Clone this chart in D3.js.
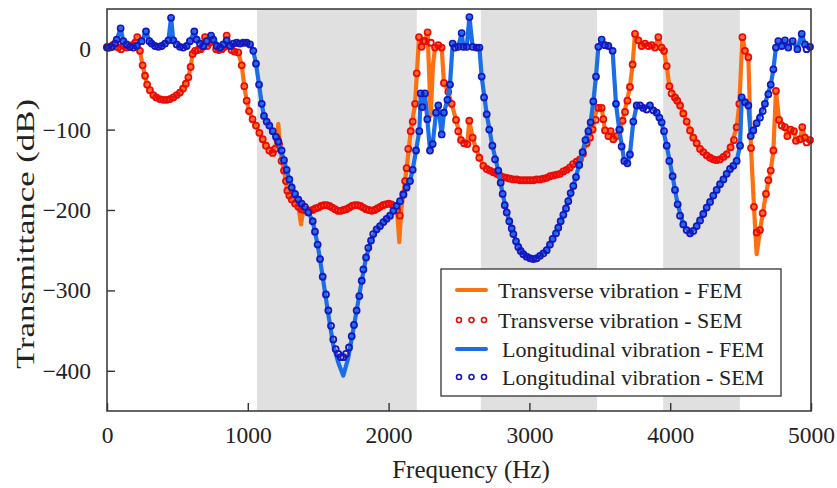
<!DOCTYPE html>
<html>
<head>
<meta charset="utf-8">
<script src="https://cdn.jsdelivr.net/npm/d3@7"></script>
<style>
  html, body { margin: 0; padding: 0; background: #fff; }
  svg { display: block; font-family: "Liberation Serif", "Times New Roman", serif; }
</style>
</head>
<body>
<svg id="chart" width="837" height="488"></svg>
<script>
// Band-gap frequency ranges (Hz), shaded grey
const bandGaps = [[1065, 2200], [2655, 3480], [3950, 4495]];

const xTicks = [0, 1000, 2000, 3000, 4000, 5000];
const yTicks = [0, -100, -200, -300, -400];

// Transverse vibration, finite element model: [frequency (Hz), transmittance (dB)]
const transverseFEM = [
  [0,3],[40,5],[80,2],[120,4],[160,3],[200,8],[215,15],[234,-2],[253,-20],[270,-33],[285,-44],[305,-51],
  [329,-57],[375,-62],[424,-63],[471,-60],[518,-54],[560,-43],[578,-35],[594,-22],[608,-6],[625,-2],
  [665,0],[680,3],[696,15],[712,4],[730,8],[755,11],[775,0],[815,0],[835,3],[850,17],[865,5],[905,-3],
  [932,-4],[957,-20],[975,-46],[992,-64],[1009,-77],[1034,-87],[1082,-104],[1129,-120],[1177,-129],
  [1200,-118],[1217,-93],[1228,-125],[1257,-151],[1281,-176],[1312,-187],[1359,-196],[1378,-218],
  [1394,-200],[1440,-201],[1500,-197],[1560,-194],[1620,-199],[1660,-201],[1720,-197],[1780,-194],
  [1840,-199],[1880,-201],[1940,-196],[2000,-192],[2040,-195],[2060,-200],[2076,-240],[2090,-200],
  [2105,-180],[2128,-148],[2157,-102],[2188,-68],[2216,15],[2234,3],[2246,10],[2258,10],[2277,21],
  [2299,-83],[2315,-20],[2330,2],[2353,5],[2377,2],[2393,-42],[2424,-53],[2448,-68],[2479,-88],
  [2514,-113],[2559,-118],[2573,-89],[2597,-110],[2621,-124],[2673,-145],[2720,-151],[2839,-160],
  [2933,-163],[3028,-163],[3123,-160],[3217,-155],[3288,-147],[3359,-137],[3407,-117],[3449,-100],
  [3470,-80],[3490,-71],[3513,-73],[3537,-101],[3561,-108],[3577,-102],[3596,-112],[3620,-108],
  [3662,-89],[3714,-47],[3733,-19],[3750,19],[3774,11],[3797,4],[3821,7],[3868,5],[3892,2],[3916,15],
  [3939,2],[3956,-2],[3975,-21],[3994,-46],[4034,-60],[4070,-70],[4117,-90],[4164,-110],[4212,-124],
  [4283,-135],[4330,-138],[4378,-134],[4429,-122],[4472,-97],[4491,-68],[4513,15],[4531,-2],[4555,-10],
  [4574,-123],[4595,-196],[4614,-255],[4638,-225],[4680,-180],[4714,-151],[4733,-126],[4751,-52],
  [4773,-88],[4815,-97],[4832,-108],[4855,-100],[4879,-102],[4893,-114],[4922,-112],[4938,-97],
  [4957,-110],[4993,-113]
];

// Transverse vibration, spectral element model
const transverseSEM = [
  [0,3],[20,2],[40,5],[60,7],[80,2],[100,0],[120,4],[140,2],[160,3],[180,5],[200,8],[215,15],[234,-2],
  [253,-20],[270,-33],[285,-44],[305,-51],[329,-57],[350,-60],[375,-62],[400,-63],[424,-63],[447,-62],
  [471,-60],[495,-57],[518,-54],[540,-49],[560,-43],[578,-35],[594,-22],[608,-6],[625,-2],[645,-1],
  [665,0],[680,3],[696,15],[712,4],[730,8],[755,11],[775,0],[795,-1],[815,0],[835,3],[850,17],[865,5],
  [885,-1],[905,-3],[932,-4],[957,-20],[975,-46],[992,-64],[1009,-77],[1034,-87],[1058,-95],[1082,-104],
  [1106,-112],[1129,-120],[1153,-126],[1177,-129],[1193,-124],[1210,-112],[1222,-118],[1240,-139],
  [1257,-151],[1271,-164],[1281,-176],[1295,-182],[1312,-187],[1335,-192],[1359,-196],[1380,-199],
  [1400,-200],[1420,-200],[1440,-201],[1460,-200],[1480,-198],[1500,-197],[1520,-195],[1540,-194],
  [1560,-194],[1580,-195],[1600,-197],[1620,-199],[1640,-201],[1660,-201],[1680,-200],[1700,-199],
  [1720,-197],[1740,-195],[1760,-194],[1780,-194],[1800,-195],[1820,-197],[1840,-199],[1860,-200],
  [1880,-201],[1900,-200],[1920,-198],[1940,-196],[1960,-194],[1980,-193],[2000,-192],[2020,-193],
  [2040,-195],[2060,-200],[2080,-207],[2105,-180],[2117,-164],[2128,-148],[2140,-124],[2157,-102],
  [2171,-90],[2188,-68],[2200,-30],[2216,15],[2234,3],[2246,10],[2258,10],[2277,21],[2300,8],[2330,2],
  [2353,5],[2377,2],[2393,-42],[2424,-53],[2448,-68],[2479,-88],[2495,-102],[2514,-113],[2536,-117],
  [2559,-118],[2573,-89],[2597,-110],[2621,-124],[2644,-135],[2673,-145],[2697,-149],[2720,-151],
  [2744,-153],[2768,-155],[2790,-157],[2815,-159],[2839,-160],[2863,-161],[2886,-162],[2910,-162],
  [2933,-163],[2957,-163],[2980,-163],[3004,-163],[3028,-163],[3051,-162],[3075,-162],[3099,-161],
  [3123,-160],[3146,-158],[3170,-157],[3194,-156],[3217,-155],[3241,-152],[3264,-150],[3288,-147],
  [3310,-143],[3335,-140],[3359,-137],[3380,-130],[3407,-117],[3430,-110],[3449,-100],[3470,-88],
  [3490,-73],[3513,-73],[3525,-87],[3537,-101],[3561,-108],[3577,-102],[3596,-112],[3620,-108],
  [3643,-100],[3662,-89],[3679,-78],[3696,-64],[3714,-47],[3733,-19],[3750,19],[3774,11],[3797,4],
  [3821,7],[3845,4],[3868,5],[3892,2],[3916,15],[3939,2],[3956,-2],[3975,-21],[3994,-46],[4010,-55],
  [4034,-60],[4050,-64],[4070,-70],[4093,-80],[4117,-90],[4141,-101],[4164,-110],[4188,-117],
  [4212,-124],[4235,-128],[4259,-132],[4283,-135],[4306,-137],[4330,-138],[4354,-137],[4378,-134],
  [4401,-131],[4429,-122],[4453,-113],[4472,-97],[4491,-68],[4513,15],[4531,-2],[4555,-10],[4574,-123],
  [4595,-196],[4614,-228],[4638,-225],[4657,-204],[4680,-180],[4697,-163],[4714,-151],[4733,-126],
  [4751,-52],[4773,-88],[4792,-95],[4815,-97],[4832,-108],[4855,-100],[4879,-102],[4893,-114],
  [4922,-112],[4938,-97],[4957,-110],[4969,-116],[4993,-113]
];

// Longitudinal vibration, finite element model
const longitudinalFEM = [
  [0,2],[33,3],[69,12],[97,26],[116,10],[163,3],[211,4],[246,10],[277,22],[301,10],[341,4],[388,4],
  [436,11],[455,39],[471,11],[518,3],[566,4],[589,10],[620,22],[637,12],[684,4],[708,10],[739,17],
  [755,12],[803,2],[850,11],[874,4],[921,8],[992,8],[1016,6],[1039,-2],[1058,-18],[1080,-44],[1099,-68],
  [1115,-83],[1153,-95],[1217,-115],[1257,-138],[1295,-162],[1335,-180],[1382,-192],[1430,-203],
  [1461,-214],[1496,-243],[1532,-283],[1572,-330],[1607,-368],[1643,-390],[1678,-406],[1712,-385],
  [1738,-360],[1773,-325],[1809,-288],[1840,-259],[1875,-238],[1915,-224],[1963,-215],[2010,-207],
  [2057,-195],[2105,-181],[2152,-164],[2171,-150],[2195,-126],[2218,-102],[2228,-55],[2240,-72],
  [2258,-55],[2275,-87],[2294,-126],[2313,-118],[2337,-79],[2353,-70],[2377,-106],[2393,-79],[2418,-63],
  [2436,-44],[2455,7],[2495,3],[2519,20],[2531,3],[2555,3],[2574,40],[2597,3],[2645,2],[2661,-34],
  [2697,-81],[2737,-120],[2779,-151],[2810,-180],[2839,-203],[2874,-223],[2905,-239],[2938,-251],
  [2980,-258],[3028,-261],[3075,-257],[3123,-250],[3165,-236],[3205,-222],[3241,-206],[3276,-189],
  [3312,-170],[3354,-144],[3398,-113],[3435,-91],[3454,-65],[3473,-34],[3490,3],[3513,12],[3537,5],
  [3561,4],[3591,-2],[3615,-68],[3638,-100],[3674,-139],[3696,-142],[3714,-131],[3738,-90],[3762,-70],
  [3809,-73],[3856,-70],[3904,-79],[3939,-91],[3975,-120],[4017,-158],[4053,-193],[4093,-218],
  [4141,-229],[4188,-220],[4259,-197],[4330,-175],[4401,-155],[4448,-145],[4472,-139],[4496,-120],
  [4508,-60],[4531,-66],[4555,-70],[4572,-108],[4614,-92],[4673,-68],[4714,-44],[4733,-25],[4751,2],
  [4768,10],[4792,4],[4815,11],[4839,2],[4870,10],[4903,0],[4934,19],[4957,6],[4993,3]
];

// Longitudinal vibration, spectral element model
const longitudinalSEM = [
  [0,2],[9,2],[33,3],[57,7],[69,12],[97,26],[116,10],[140,6],[163,3],[187,2],[211,4],[246,10],[277,22],
  [301,10],[317,7],[341,4],[365,3],[388,4],[412,7],[436,11],[455,39],[471,11],[495,6],[518,3],[542,2],
  [566,4],[589,10],[620,22],[637,12],[660,7],[684,4],[708,10],[739,17],[755,12],[779,4],[803,2],[826,6],
  [850,11],[874,4],[897,7],[921,8],[945,7],[968,8],[992,8],[1016,6],[1039,-2],[1058,-18],[1080,-44],
  [1099,-68],[1115,-83],[1134,-90],[1153,-95],[1177,-102],[1200,-109],[1217,-115],[1240,-126],
  [1257,-138],[1276,-150],[1295,-162],[1312,-172],[1335,-180],[1359,-187],[1382,-192],[1405,-196],
  [1430,-203],[1461,-214],[1477,-227],[1496,-243],[1513,-261],[1532,-283],[1555,-305],[1572,-325],
  [1591,-344],[1607,-361],[1624,-373],[1643,-379],[1660,-383],[1678,-383],[1697,-379],[1719,-371],
  [1738,-357],[1754,-343],[1773,-325],[1792,-307],[1809,-288],[1821,-274],[1840,-259],[1856,-247],
  [1875,-238],[1891,-230],[1915,-224],[1939,-220],[1963,-215],[1986,-211],[2010,-207],[2034,-201],
  [2057,-195],[2081,-189],[2105,-181],[2128,-172],[2152,-164],[2171,-150],[2195,-126],[2218,-102],
  [2228,-55],[2240,-72],[2258,-55],[2275,-87],[2294,-126],[2313,-118],[2337,-79],[2353,-70],[2377,-106],
  [2393,-79],[2418,-63],[2436,-44],[2455,7],[2472,2],[2495,3],[2519,20],[2531,3],[2555,3],[2574,40],
  [2597,3],[2625,2],[2645,2],[2661,-34],[2678,-60],[2697,-81],[2715,-100],[2737,-120],[2756,-137],
  [2779,-151],[2796,-166],[2810,-180],[2825,-194],[2839,-203],[2857,-214],[2874,-223],[2886,-230],
  [2905,-239],[2921,-246],[2938,-251],[2957,-255],[2980,-258],[3004,-260],[3028,-261],[3051,-260],
  [3075,-257],[3099,-254],[3123,-250],[3146,-243],[3165,-236],[3189,-229],[3205,-222],[3222,-214],
  [3241,-206],[3260,-198],[3276,-189],[3293,-179],[3312,-170],[3331,-159],[3354,-144],[3378,-128],
  [3398,-113],[3419,-102],[3435,-91],[3454,-65],[3473,-34],[3490,3],[3513,12],[3537,5],[3561,4],
  [3591,-2],[3615,-68],[3638,-100],[3655,-121],[3674,-139],[3696,-142],[3714,-131],[3738,-90],
  [3762,-70],[3786,-70],[3809,-73],[3833,-75],[3856,-70],[3880,-76],[3904,-79],[3923,-85],[3939,-91],
  [3956,-102],[3975,-120],[3994,-139],[4017,-158],[4034,-175],[4053,-193],[4070,-207],[4093,-218],
  [4117,-225],[4141,-229],[4164,-226],[4188,-220],[4212,-213],[4235,-205],[4259,-197],[4283,-190],
  [4306,-182],[4330,-175],[4354,-168],[4378,-162],[4401,-155],[4425,-149],[4448,-145],[4472,-139],
  [4496,-120],[4508,-60],[4531,-66],[4555,-70],[4572,-108],[4590,-101],[4614,-92],[4638,-85],
  [4657,-77],[4673,-68],[4697,-56],[4714,-44],[4733,-25],[4751,2],[4768,10],[4792,4],[4815,11],
  [4839,2],[4870,10],[4903,0],[4934,19],[4957,6],[4969,0],[4993,3]
];

const legendLabels = [
  "Transverse vibration - FEM",
  "Transverse vibration - SEM",
  "Longitudinal vibration - FEM",
  "Longitudinal vibration - SEM"
];

const colors = {
  transFEM: "#ff7010",
  transSEM: "#ea0a0a",
  longFEM: "#1b6fe6",
  longSEM: "#1616c0",
  axis: "#333333",
  band: "#e0e0e0",
  text: "#222222"
};

const svg = d3.select("#chart");
const plot = { left: 107, right: 811, top: 9, bottom: 411 };

const x = d3.scaleLinear().domain([0, 5000]).range([plot.left, plot.right]);
const y = d3.scaleLinear().domain([-450, 50]).range([plot.bottom, plot.top]);

// shaded band gaps
svg.append("g").selectAll("rect").data(bandGaps).join("rect")
  .attr("x", d => x(d[0]))
  .attr("y", plot.top)
  .attr("width", d => x(d[1]) - x(d[0]))
  .attr("height", plot.bottom - plot.top)
  .attr("fill", colors.band);

const line = d3.line().x(d => x(d[0])).y(d => y(d[1]));

function drawLine(data, color) {
  svg.append("path").datum(data)
    .attr("d", line)
    .attr("fill", "none")
    .attr("stroke", color)
    .attr("stroke-width", 4.2)
    .attr("stroke-linejoin", "round")
    .attr("stroke-linecap", "round");
}

function drawDots(data, color) {
  svg.append("g").selectAll("circle").data(data).join("circle")
    .attr("cx", d => x(d[0]))
    .attr("cy", d => y(d[1]))
    .attr("r", 3)
    .attr("fill", "none")
    .attr("stroke", color)
    .attr("stroke-width", 1.8);
}

drawLine(transverseFEM, colors.transFEM);
drawDots(transverseSEM, colors.transSEM);
drawLine(longitudinalFEM, colors.longFEM);
drawDots(longitudinalSEM, colors.longSEM);

// axes with inward ticks
const xAxis = d3.axisBottom(x).tickValues(xTicks).tickFormat(d3.format("d"))
  .tickSizeInner(-8).tickSizeOuter(0).tickPadding(15);
const yAxis = d3.axisLeft(y).tickValues(yTicks).tickFormat(d3.format("d"))
  .tickSizeInner(-8).tickSizeOuter(0).tickPadding(16);

const gx = svg.append("g").attr("transform", `translate(0,${plot.bottom})`).call(xAxis);
const gy = svg.append("g").attr("transform", `translate(${plot.left},0)`).call(yAxis);

[gx, gy].forEach(g => {
  g.select(".domain").remove();
  g.selectAll(".tick line").attr("stroke", colors.axis).attr("stroke-width", 1.4);
  g.selectAll(".tick text")
    .attr("fill", colors.text)
    .style("font-family", "'Liberation Serif', 'Times New Roman', serif")
    .style("font-size", "23.5px");
});

// frame around plot area
svg.append("rect")
  .attr("x", plot.left).attr("y", plot.top)
  .attr("width", plot.right - plot.left).attr("height", plot.bottom - plot.top)
  .attr("fill", "none").attr("stroke", colors.axis).attr("stroke-width", 1.5);

// axis titles
svg.append("text")
  .attr("x", 471).attr("y", 478)
  .attr("text-anchor", "middle")
  .attr("fill", colors.text)
  .style("font-size", "25px")
  .text("Frequency (Hz)");

svg.append("text")
  .attr("transform", "translate(34,234) rotate(-90)")
  .attr("text-anchor", "middle")
  .attr("fill", colors.text)
  .attr("textLength", 270)
  .attr("lengthAdjust", "spacingAndGlyphs")
  .style("font-size", "26px")
  .text("Transmittance (dB)");

// legend
const legend = svg.append("g");
legend.append("rect")
  .attr("x", 441).attr("y", 269).attr("width", 340).attr("height", 127)
  .attr("fill", "#fff").attr("stroke", colors.axis).attr("stroke-width", 1.3);

const legendItems = [
  { label: legendLabels[0], kind: "line", color: colors.transFEM, cy: 290, tx: 498 },
  { label: legendLabels[1], kind: "dots", color: colors.transSEM, cy: 320, tx: 498 },
  { label: legendLabels[2], kind: "line", color: colors.longFEM, cy: 349, tx: 502 },
  { label: legendLabels[3], kind: "dots", color: colors.longSEM, cy: 377, tx: 502 }
];

legendItems.forEach(item => {
  if (item.kind === "line") {
    legend.append("line")
      .attr("x1", 457).attr("x2", 486).attr("y1", item.cy).attr("y2", item.cy)
      .attr("stroke", item.color).attr("stroke-width", 4).attr("stroke-linecap", "round");
  } else {
    legend.append("g").selectAll("circle").data([459, 471.5, 484]).join("circle")
      .attr("cx", d => d).attr("cy", item.cy).attr("r", 2.5)
      .attr("fill", "none").attr("stroke", item.color).attr("stroke-width", 1.6);
  }
  legend.append("text")
    .attr("x", item.tx).attr("y", item.cy + 7.5)
    .attr("fill", colors.text)
    .style("font-size", "22px")
    .text(item.label);
});
</script>
</body>
</html>
